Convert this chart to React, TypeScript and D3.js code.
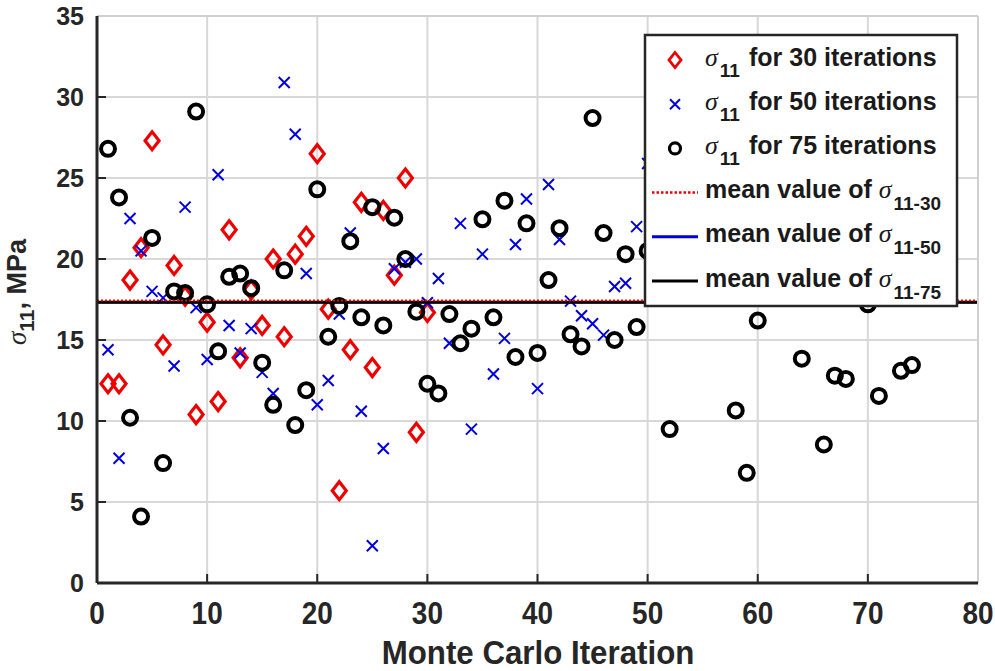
import React from "react";
import * as d3 from "d3";

const iter30: number[] = d3.range(1, 31);
const sigma30: number[] = [12.3, 12.3, 18.7, 20.7, 27.3, 14.7, 19.6, 17.7, 10.4, 16.1, 11.2, 21.8, 13.9, 18.1, 15.9, 20.0, 15.2, 20.3, 21.4, 26.5, 16.9, 5.7, 14.4, 23.5, 13.3, 23.0, 19.0, 25.0, 9.3, 16.7];

const iter50: number[] = d3.range(1, 51);
const sigma50: number[] = [14.4, 7.7, 22.5, 20.5, 18.0, 17.6, 13.4, 23.2, 17.0, 13.8, 25.2, 15.9, 14.2, 15.7, 13.0, 11.7, 30.9, 27.7, 19.1, 11.0, 12.5, 16.6, 21.6, 10.6, 2.3, 8.3, 19.4, 19.8, 20.0, 17.3, 18.8, 14.8, 22.2, 9.5, 20.3, 12.9, 15.1, 20.9, 23.7, 12.0, 24.6, 21.2, 17.4, 16.5, 16.0, 15.3, 18.3, 18.5, 22.0, 25.9];

const iter75: number[] = d3.range(1, 76);
const sigma75: number[] = [26.8, 23.8, 10.2, 4.1, 21.3, 7.4, 18.0, 17.9, 29.1, 17.2, 14.3, 18.9, 19.1, 18.2, 13.6, 11.0, 19.3, 9.75, 11.9, 24.3, 15.2, 17.1, 21.1, 16.4, 23.2, 15.9, 22.55, 20.0, 16.75, 12.3, 11.7, 16.6, 14.8, 15.7, 22.45, 16.4, 23.6, 13.95, 22.2, 14.2, 18.7, 21.9, 15.35, 14.6, 28.7, 21.6, 15.0, 20.3, 15.8, 20.5, 22.0, 9.5, 19.5, 24.0, 18.5, 21.0, 26.0, 10.65, 6.8, 16.2, 19.0, 23.0, 20.5, 13.85, 18.8, 8.55, 12.8, 12.6, 22.5, 17.2, 11.55, 20.0, 13.1, 13.45, 21.7];

const xTicks: number[] = [0, 10, 20, 30, 40, 50, 60, 70, 80];
const yTicks: number[] = [0, 5, 10, 15, 20, 25, 30, 35];

const legendLabels: string[] = ["for 30 iterations", "for 50 iterations", "for 75 iterations"];
const meanSubs: string[] = ["11-30", "11-50", "11-75"];

const W = 995, H = 671;
const RED = "#ee0000", BLUE = "#0000dd", BLACK = "#000000";
const SANS = "'Liberation Sans', Arial, Helvetica, sans-serif";
const SERIF = "'Liberation Serif', 'Times New Roman', serif";

function Diamond({ x, y, hw, hh, sw }: { x: number; y: number; hw: number; hh: number; sw: number }) {
  return <path d={`M${x},${y - hh}L${x + hw},${y}L${x},${y + hh}L${x - hw},${y}Z`} fill="none" stroke={RED} strokeWidth={sw} />;
}
function Cross({ x, y, s, sw }: { x: number; y: number; s: number; sw: number }) {
  return <path d={`M${x - s},${y - s}L${x + s},${y + s}M${x - s},${y + s}L${x + s},${y - s}`} stroke={BLUE} strokeWidth={sw} fill="none" />;
}

export default function App() {
  const x = d3.scaleLinear().domain([0, 80]).range([97, 978]);
  const y = d3.scaleLinear().domain([0, 35]).range([583, 16]);
  const m30 = d3.mean(sigma30) as number;
  const m50 = d3.mean(sigma50) as number;
  const m75 = d3.mean(sigma75) as number;

  const lx = 645, ly = 35, lw = 312, lh = 271;
  const rowY = (i: number) => 60 + i * 44.2;

  return (
    <svg width={W} height={H} style={{ position: "absolute", left: 0, top: 0, background: "#fff" }} fontFamily={SANS}>
      <rect x={0} y={0} width={W} height={H} fill="#fff" />
      {/* grid */}
      {xTicks.map((t) => (
        <line key={"gx" + t} x1={x(t)} x2={x(t)} y1={y(0)} y2={y(35)} stroke="#d8d8d8" strokeWidth={2} />
      ))}
      {yTicks.map((t) => (
        <line key={"gy" + t} x1={x(0)} x2={x(80)} y1={y(t)} y2={y(t)} stroke="#d8d8d8" strokeWidth={2} />
      ))}
      {/* ticks */}
      {xTicks.map((t) => (
        <line key={"tx" + t} x1={x(t)} x2={x(t)} y1={y(0)} y2={y(0) - 9} stroke="#262626" strokeWidth={2} />
      ))}
      {yTicks.map((t) => (
        <line key={"ty" + t} x1={x(0)} x2={x(0) + 9} y1={y(t)} y2={y(t)} stroke="#262626" strokeWidth={2} />
      ))}
      {/* markers */}
      {sigma30.map((v, i) => (
        <Diamond key={"d" + i} x={x(iter30[i])} y={y(v)} hw={7} hh={9} sw={3.2} />
      ))}
      {sigma50.map((v, i) => (
        <Cross key={"c" + i} x={x(iter50[i])} y={y(v)} s={5.5} sw={2} />
      ))}
      {sigma75.map((v, i) => (
        <circle key={"o" + i} cx={x(iter75[i])} cy={y(v)} r={7} fill="none" stroke={BLACK} strokeWidth={4} />
      ))}
      {/* mean lines */}
      <line x1={x(0)} x2={x(80)} y1={y(m50)} y2={y(m50)} stroke={BLUE} strokeWidth={2.5} />
      <line x1={x(0)} x2={x(80)} y1={y(m75) + 0.8} y2={y(m75) + 0.8} stroke={BLACK} strokeWidth={3} />
      <line x1={x(0)} x2={x(80)} y1={y(m30) - 1.2} y2={y(m30) - 1.2} stroke={RED} strokeWidth={1.8} strokeDasharray="2,2" />
      {/* axes */}
      <line x1={x(0)} x2={x(80)} y1={y(35)} y2={y(35)} stroke="#d0d0d0" strokeWidth={2} />
      <line x1={x(80)} x2={x(80)} y1={y(0)} y2={y(35)} stroke="#d0d0d0" strokeWidth={2} />
      <line x1={x(0)} x2={x(80)} y1={y(0)} y2={y(0)} stroke="#262626" strokeWidth={3} />
      <line x1={x(0)} x2={x(0)} y1={y(0)} y2={y(35)} stroke="#262626" strokeWidth={3} />
      {/* tick labels */}
      {yTicks.map((t) => (
        <text key={"ly" + t} x={84} y={y(t) + 9} textAnchor="end" fontSize={25} fontWeight="bold" fill="#262626">
          {t}
        </text>
      ))}
      {xTicks.map((t) => (
        <text key={"lx" + t} transform={`translate(${x(t)},${624}) scale(0.9,1)`} textAnchor="middle" fontSize={31} fontWeight="bold" fill="#262626">
          {t}
        </text>
      ))}
      {/* axis titles */}
      <text transform={`translate(538,664) scale(0.92,1)`} textAnchor="middle" fontSize={34} fontWeight="bold" fill="#262626">
        Monte Carlo Iteration
      </text>
      <text transform="translate(26,292) rotate(-90)" textAnchor="middle" fontSize={27} fontWeight="bold" fill="#262626">
        <tspan fontFamily={SERIF} fontStyle="italic" fontWeight="normal">σ</tspan>
        <tspan fontSize={21} dy={8}>11</tspan>
        <tspan dy={-8}>, MPa</tspan>
      </text>
      {/* legend */}
      <rect x={lx} y={ly} width={lw} height={lh} fill="#fff" stroke="#262626" strokeWidth={2.5} />
      <Diamond x={675} y={rowY(0)} hw={6} hh={7.5} sw={2.8} />
      <Cross x={675} y={rowY(1)} s={5} sw={2} />
      <circle cx={675} cy={rowY(2)} r={5.5} fill="none" stroke={BLACK} strokeWidth={3.2} />
      <line x1={652} x2={698} y1={rowY(3)} y2={rowY(3)} stroke={RED} strokeWidth={2.5} strokeDasharray="2.5,2" />
      <line x1={652} x2={698} y1={rowY(4)} y2={rowY(4)} stroke={BLUE} strokeWidth={3} />
      <line x1={652} x2={698} y1={rowY(5)} y2={rowY(5)} stroke={BLACK} strokeWidth={3} />
      {legendLabels.map((s, i) => (
        <text key={"lg" + i} x={705} y={rowY(i) + 5.5} fontSize={25} fontWeight="bold" fill="#1a1a1a">
          <tspan fontFamily={SERIF} fontStyle="italic" fontWeight="normal" fontSize={26}>σ</tspan>
          <tspan fontSize={19} dy={11} dx={2}>11</tspan>
          <tspan x={749} dy={-11}>{s}</tspan>
        </text>
      ))}
      {meanSubs.map((s, i) => (
        <text key={"lm" + i} x={705} y={rowY(i + 3) + 5.5} fontSize={25} fontWeight="bold" fill="#1a1a1a">
          <tspan>mean value of </tspan>
          <tspan fontFamily={SERIF} fontStyle="italic" fontWeight="normal" fontSize={26}>σ</tspan>
          <tspan fontSize={19} dy={12} dx={2}>{s}</tspan>
        </text>
      ))}
    </svg>
  );
}
